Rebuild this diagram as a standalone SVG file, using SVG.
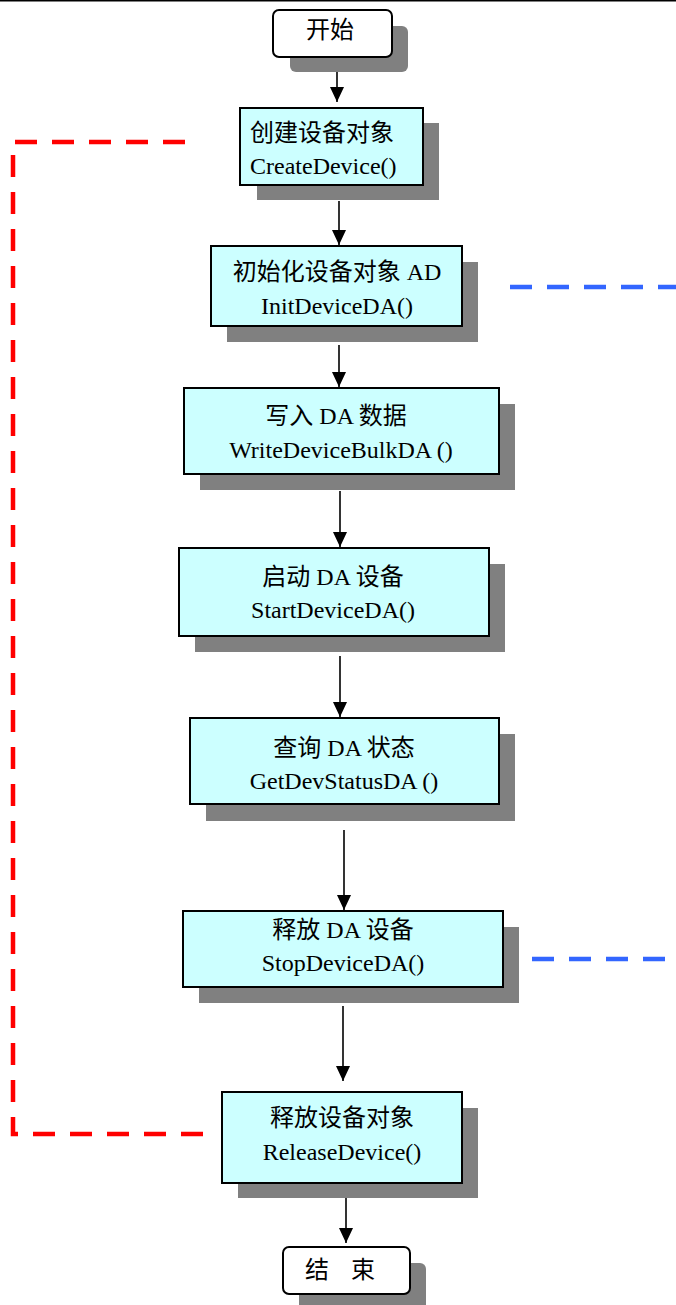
<svg xmlns="http://www.w3.org/2000/svg" width="676" height="1305" viewBox="0 0 676 1305">
<style>
.shadow{fill:#808080;stroke:none}
.box{fill:#CCFFFF;stroke:#000;stroke-width:2}
.term{fill:#fff;stroke:#000;stroke-width:2}
.t{font-family:"Liberation Serif","Noto Sans CJK SC",serif;font-size:24px;fill:#000}
.c{text-anchor:middle}
.arrow{stroke:#000;stroke-width:1.6;fill:none;marker-end:url(#ah)}
.red{stroke:#FF0000;stroke-width:4.5;fill:none;stroke-dasharray:22 15}
.blue{stroke:#3366FF;stroke-width:4.5;fill:none;stroke-dasharray:22 15}
</style>
<defs>
<marker id="ah" markerUnits="userSpaceOnUse" markerWidth="16" markerHeight="14" refX="15" refY="7" orient="auto" viewBox="0 0 16 14">
<path d="M0,0 L15,7 L0,14 Z" fill="#000"/>
</marker>
</defs>
<rect width="676" height="1305" fill="#fff"/>
<line x1="0" y1="0.5" x2="676" y2="0.5" stroke="#000" stroke-width="2"/>
<g id="connectors">
<line class="arrow" x1="337" y1="57" x2="337" y2="102"/>
<line class="arrow" x1="339" y1="201" x2="339" y2="245"/>
<line class="arrow" x1="339" y1="345" x2="339" y2="387"/>
<line class="arrow" x1="340" y1="491" x2="340" y2="547"/>
<line class="arrow" x1="340" y1="656" x2="340" y2="717"/>
<line class="arrow" x1="344" y1="830" x2="344" y2="910"/>
<line class="arrow" x1="343" y1="1006" x2="343" y2="1081"/>
<line class="arrow" x1="346" y1="1198" x2="346" y2="1243"/>
<path class="red" d="M185,142 L13,142 L13,1134 L205,1134"/>
<line class="blue" x1="510" y1="287" x2="676" y2="287"/>
<line class="blue" x1="532" y1="959" x2="676" y2="959"/>
</g>
<g id="start">
<rect class="shadow" x="290" y="26" width="118" height="46" rx="6"/>
<rect class="term" x="273" y="10" width="119" height="47" rx="6"/>
<text class="t c" x="330" y="38">开始</text>
</g>
<g id="create">
<rect class="shadow" x="257" y="123" width="182" height="77"/>
<rect class="box" x="240" y="108" width="183" height="77"/>
<text class="t" x="250" y="141">创建设备对象</text>
<text class="t" x="250" y="174">CreateDevice()</text>
</g>
<g id="init">
<rect class="shadow" x="227" y="262" width="251" height="80"/>
<rect class="box" x="211" y="246" width="251" height="80"/>
<text class="t c" x="337" y="280">初始化设备对象 AD</text>
<text class="t c" x="337" y="314">InitDeviceDA()</text>
</g>
<g id="write">
<rect class="shadow" x="200" y="404" width="315" height="86"/>
<rect class="box" x="184" y="388" width="315" height="86"/>
<text class="t c" x="336" y="424">写入 DA 数据</text>
<text class="t c" x="341" y="458">WriteDeviceBulkDA ()</text>
</g>
<g id="startda">
<rect class="shadow" x="195" y="564" width="310" height="88"/>
<rect class="box" x="179" y="548" width="310" height="88"/>
<text class="t c" x="333" y="585">启动 DA 设备</text>
<text class="t c" x="333" y="618">StartDeviceDA()</text>
</g>
<g id="status">
<rect class="shadow" x="206" y="734" width="309" height="87"/>
<rect class="box" x="190" y="718" width="309" height="86"/>
<text class="t c" x="344" y="756">查询 DA 状态</text>
<text class="t c" x="344" y="789">GetDevStatusDA ()</text>
</g>
<g id="stop">
<rect class="shadow" x="199" y="927" width="320" height="76"/>
<rect class="box" x="183" y="911" width="320" height="76"/>
<text class="t c" x="343" y="938">释放 DA 设备</text>
<text class="t c" x="343" y="971">StopDeviceDA()</text>
</g>
<g id="release">
<rect class="shadow" x="238" y="1108" width="240" height="90"/>
<rect class="box" x="222" y="1092" width="240" height="91"/>
<text class="t c" x="342" y="1126">释放设备对象</text>
<text class="t c" x="342" y="1160">ReleaseDevice()</text>
</g>
<g id="end">
<rect class="shadow" x="299" y="1263" width="127" height="50" rx="6"/>
<rect class="term" x="283" y="1247" width="127" height="47" rx="6"/>
<text class="t c" x="340" y="1278" style="word-spacing:16px">结 束</text>
</g>
</svg>
